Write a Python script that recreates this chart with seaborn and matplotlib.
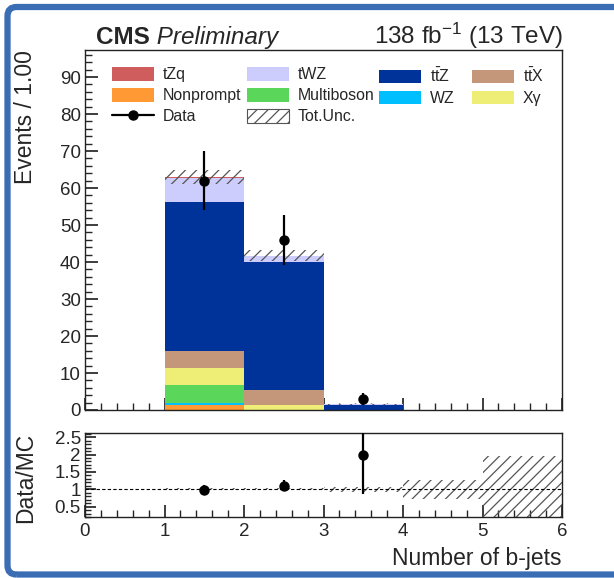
import numpy as np
import pandas as pd
import matplotlib
matplotlib.use("Agg")
import matplotlib.pyplot as plt
import seaborn as sns
from matplotlib.patches import Patch, FancyBboxPatch
from matplotlib.lines import Line2D
from matplotlib.ticker import MultipleLocator

# ---- binning ---------------------------------------------------------------
edges = [0, 1, 2, 3, 4, 5, 6]
centers = [0.5, 1.5, 2.5, 3.5, 4.5, 5.5]

# ---- expected yields per number of b-jets -----------------------------------
nonprompt = [0.0, 1.3, 0.0, 0.0, 0.0, 0.0]
wz = [0.0, 0.6, 0.0, 0.0, 0.0, 0.0]
multiboson = [0.0, 4.9, 0.0, 0.0, 0.0, 0.0]
xgamma = [0.0, 4.6, 1.3, 0.0, 0.0, 0.0]
ttx = [0.0, 4.5, 4.1, 0.0, 0.0, 0.0]
ttz = [0.0, 40.2, 34.6, 1.35, 0.05, 0.01]
twz = [0.0, 6.6, 1.6, 0.15, 0.0, 0.0]
tzq = [0.0, 0.3, 0.1, 0.0, 0.0, 0.0]

# relative total uncertainty on the prediction
rel_unc = [0.0, 0.03, 0.035, 0.075, 0.28, 0.96]

# ---- observed data ----------------------------------------------------------
data_x = [1.5, 2.5, 3.5]
data_n = [62, 46, 3]
data_err = [7.9, 6.8, 1.7]

# ---- process definitions (top of stack first) -------------------------------
proc_names = ["tZq", "tWZ", "ttZ", "ttX", "Xgamma", "Multiboson", "WZ", "Nonprompt"]
proc_yields = [tzq, twz, ttz, ttx, xgamma, multiboson, wz, nonprompt]
proc_colors = ["#cf5d5e", "#cccdfc", "#003399", "#c4967a",
               "#eeee77", "#5ad65a", "#00bfff", "#ff9933"]
proc_labels = {
    "tZq": "tZq",
    "tWZ": "tWZ",
    "ttZ": r"t$\bar{\mathrm{t}}$Z",
    "ttX": r"t$\bar{\mathrm{t}}$X",
    "Xgamma": "Xγ",
    "Multiboson": "Multiboson",
    "WZ": "WZ",
    "Nonprompt": "Nonprompt",
}
palette = dict(zip(proc_names, proc_colors))

rows = []
for name, ys in zip(proc_names, proc_yields):
    for c, y in zip(centers, ys):
        rows.append({"nb": c, "w": y, "proc": name})
df = pd.DataFrame(rows)

total = np.sum(np.array(proc_yields), axis=0)
unc = total * np.array(rel_unc)

# ---- style ------------------------------------------------------------------
sns.set_theme(style="ticks")
plt.rcParams["font.family"] = ["Liberation Sans", "DejaVu Sans"]
plt.rcParams["mathtext.fontset"] = "custom"
plt.rcParams["mathtext.rm"] = "Liberation Sans"
plt.rcParams["mathtext.it"] = "Liberation Sans:italic"
plt.rcParams["mathtext.bf"] = "Liberation Sans:bold"
plt.rcParams["hatch.linewidth"] = 0.9
plt.rcParams["axes.edgecolor"] = "#222222"

W, H = 614, 578
fig = plt.figure(figsize=(W / 100, H / 100), dpi=100, facecolor="white")

x0, x1 = 85 / W, 562 / W
ax = fig.add_axes([x0, 1 - 410 / H, x1 - x0, (410 - 50) / H])
axr = fig.add_axes([x0, 1 - 517 / H, x1 - x0, (517 - 433) / H])

# ---- stacked prediction -----------------------------------------------------
sns.histplot(data=df, x="nb", weights="w", hue="proc", hue_order=proc_names,
             palette=palette, multiple="stack", bins=edges, element="bars",
             fill=True, alpha=1, linewidth=0, legend=False, ax=ax)

# total uncertainty band
ax.bar(centers, 2 * unc, bottom=total - unc, width=1.0, fill=False,
       hatch="///", edgecolor="#555555", linewidth=0)

# data
ax.errorbar(data_x, data_n, yerr=data_err, fmt="o", color="black",
            ms=6.5, elinewidth=1.6, capsize=0, zorder=5)

ax.set_xlim(0, 6)
ax.set_ylim(0, 97.3)
ax.set_xlabel("")
ax.set_ylabel("Events / 1.00", fontsize=16.5, loc="top")
ax.yaxis.set_label_coords(-0.100, 1.0)
ax.xaxis.set_major_locator(MultipleLocator(1))
ax.xaxis.set_minor_locator(MultipleLocator(0.2))
ax.yaxis.set_major_locator(MultipleLocator(10))
ax.yaxis.set_minor_locator(MultipleLocator(2))
ax.tick_params(axis="both", which="both", direction="in", top=False, right=False)
ax.tick_params(axis="x", which="major", length=9, labelbottom=False)
ax.tick_params(axis="x", which="minor", length=5)
ax.tick_params(axis="y", which="major", length=9, labelsize=13.5, pad=3)
ax.tick_params(axis="y", which="minor", length=5)

# ---- legend, one column at a time -------------------------------------------
leg_font = 11.4
hp = lambda n: Patch(facecolor=palette[n], edgecolor=palette[n], linewidth=0)
data_handle = Line2D([], [], color="black", marker="o", ms=6.5, lw=1.6)
unc_handle = Patch(facecolor="white", hatch="///", edgecolor="#555555", linewidth=0.8)
columns = [
    ([hp("tZq"), hp("Nonprompt"), data_handle], ["tZq", "Nonprompt", "Data"], 112),
    ([hp("tWZ"), hp("Multiboson"), unc_handle], ["tWZ", "Multiboson", "Tot.Unc."], 247),
    ([hp("ttZ"), hp("WZ")], [proc_labels["ttZ"], "WZ"], 379),
    ([hp("ttX"), hp("Xgamma")], [proc_labels["ttX"], "Xγ"], 472),
]
legs = []
for handles, labels, xpix in columns:
    leg = ax.legend(handles, labels, loc="upper left",
                    bbox_to_anchor=(xpix / W, 1 - 67 / H),
                    bbox_transform=fig.transFigure, frameon=False,
                    fontsize=leg_font, handlelength=2.65, handleheight=0.95,
                    handletextpad=0.55, labelspacing=0.36, borderpad=0,
                    borderaxespad=0)
    legs.append(leg)
for leg in legs[:-1]:
    ax.add_artist(leg)

# ---- header -----------------------------------------------------------------
cms = fig.text(96 / W, 1 - 44 / H, "CMS", fontsize=17.5, fontweight="bold",
               ha="left", va="baseline")
ax.annotate(" Preliminary", xy=(1, 0), xycoords=cms, fontsize=17.5,
            fontstyle="italic", ha="left", va="bottom")
fig.text(563 / W, 1 - 44 / H, r"138 fb$^{-1}$ (13 TeV)", fontsize=17.5,
         ha="right", va="baseline")

# ---- ratio panel ------------------------------------------------------------
rel = np.array(rel_unc)
axr.bar(centers, 2 * rel, bottom=1 - rel, width=1.0, fill=False,
        hatch="///", edgecolor="#555555", linewidth=0)
axr.axhline(1.0, color="black", lw=0.8, ls=(0, (3, 2)))
idx = [int(x) for x in data_x]
ratio = np.array(data_n) / total[idx]
ratio_err = np.array(data_err) / total[idx]
axr.errorbar(data_x, ratio, yerr=ratio_err, fmt="o", color="black",
             ms=6.5, elinewidth=1.6, capsize=0, zorder=5)

axr.set_xlim(0, 6)
axr.set_ylim(0.2, 2.62)
axr.set_yticks([0.5, 1, 1.5, 2, 2.5])
axr.set_yticklabels(["0.5", "1", "1.5", "2", "2.5"])
axr.xaxis.set_major_locator(MultipleLocator(1))
axr.xaxis.set_minor_locator(MultipleLocator(0.2))
axr.yaxis.set_minor_locator(MultipleLocator(0.1))
axr.tick_params(axis="both", which="both", direction="in", top=False, right=False)
axr.tick_params(axis="x", which="major", length=9, labelsize=13.5, pad=4)
axr.tick_params(axis="x", which="minor", length=5)
axr.tick_params(axis="y", which="major", length=8, labelsize=13.5, pad=3)
axr.tick_params(axis="y", which="minor", length=4)
axr.set_ylabel("Data/MC", fontsize=16.5, loc="top")
axr.yaxis.set_label_coords(-0.100, 1.0)
axr.set_xlabel("Number of b-jets", fontsize=16.5, loc="right")
axr.xaxis.set_label_coords(1.0, -0.36)

for a in (ax, axr):
    for s in a.spines.values():
        s.set_linewidth(1.0)
        s.set_visible(True)

# ---- outer frame ------------------------------------------------------------
frame = FancyBboxPatch((7.5, 3.5), 640, 567.5,
                       boxstyle="round,pad=0,rounding_size=9",
                       transform=None, facecolor="none",
                       edgecolor="#3b6db4", linewidth=4.5, zorder=10)
fig.add_artist(frame)

fig.savefig("out.png", dpi=100, facecolor="white")
